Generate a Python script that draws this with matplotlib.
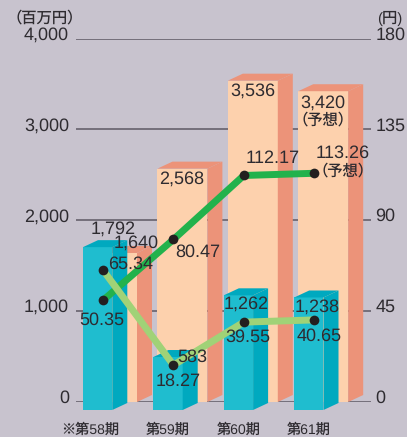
import matplotlib
matplotlib.use("Agg")
import matplotlib.pyplot as plt
from matplotlib.patches import Polygon
from matplotlib.transforms import ScaledTranslation

FONT = ['Liberation Sans', 'Noto Sans CJK JP', 'DejaVu Sans']
plt.rcParams['font.family'] = FONT
plt.rcParams['text.hinting'] = 'no_hinting'
plt.rcParams['text.hinting_factor'] = 1

# ---------- data ----------
periods = ['※第58期', '第59期', '第60期', '第61期']
sales = [1640, 2568, 3536, 3420]
profit = [1792, 583, 1262, 1238]
eps = [50.35, 80.47, 112.17, 113.26]
dividend = [65.34, 18.27, 39.55, 40.65]
left_ticks = [0, 1000, 2000, 3000, 4000]
right_ticks = [0, 45, 90, 135, 180]
forecast_note = '（予想）'
left_unit = '（百万円）'
right_unit = '(円)'

# ---------- styles ----------
BG = '#C8C3CE'
TXT = '#2E2B30'
GRID = '#5E5964'
PEACH, PEACH_D = '#FDD1AD', '#EC9379'
BLUE, BLUE_D = '#1FBDCF', '#00A9BF'
GREEN_D, GREEN_L = '#22B24C', '#A0D277'
W, H = 407, 437
PX_X = 70.4        # pixels per category
PX_Y = 0.091       # pixels per unit on left axis
DEPTH_X, DEPTH_Y = 15, 7

fig = plt.figure(figsize=(W / 100, H / 100), dpi=100, facecolor=BG)
ax = fig.add_axes([76 / W, 1 - 402 / H, 295 / W, 363.5 / H])
ax.set_facecolor('none')
ax.set_xlim((76 - 103) / PX_X, (371 - 103) / PX_X)
ax.set_ylim(0, 4000)
for s in ax.spines.values():
    s.set_visible(False)


def box(i, value, left_px, width_px, base_px, front, dark, z):
    """3-D column for category i; the whole column is dropped by base_px."""
    x0 = i + left_px / PX_X
    x1 = x0 + width_px / PX_X
    dx = DEPTH_X / PX_X
    dy = DEPTH_Y / PX_Y
    b = -base_px / PX_Y
    top = value + b
    ax.bar(x0, value, width=x1 - x0, bottom=b, align='edge', color=front,
           linewidth=0, zorder=z, clip_on=False)
    ax.add_patch(Polygon([(x1, b), (x1 + dx, b + dy), (x1 + dx, top + dy), (x1, top)],
                         facecolor=dark, edgecolor='none', zorder=z, clip_on=False))
    ax.add_patch(Polygon([(x0, top), (x1, top), (x1 + dx, top + dy), (x0 + dx, top + dy)],
                         facecolor=dark, edgecolor='none', zorder=z, clip_on=False))


for i, v in enumerate(sales):
    box(i, v, -16, 50, 0, PEACH, PEACH_D, 2)
for i, v in enumerate(profit):
    box(i, v, -20, 29.3, 8, BLUE, BLUE_D, 3)

ax.set_yticks(left_ticks)
ax.set_yticklabels([f'{v:,}' for v in left_ticks])
ax.yaxis.grid(True, color=GRID, linewidth=1.1)
ax.xaxis.grid(False)
ax.set_axisbelow(True)
ax.tick_params(axis='y', length=0, pad=5, labelsize=12.7, labelcolor=TXT)

label_shift = [-13, -6, -5.5, -5]
ax.set_xticks([i + s / PX_X for i, s in enumerate(label_shift)])
ax.set_xticklabels(periods)
ax.tick_params(axis='x', length=0, pad=15, labelsize=10.2, labelcolor=TXT)

ax2 = ax.twinx()
ax2.set_facecolor('none')
ax2.set_ylim(0, 180)
for s in ax2.spines.values():
    s.set_visible(False)
ax2.set_yticks(right_ticks)
ax2.set_yticklabels([str(v) for v in right_ticks])
ax2.tick_params(axis='y', length=0, pad=3, labelsize=12.7, labelcolor=TXT)

xs = list(range(len(periods)))
ax2.plot(xs, eps, color=GREEN_D, lw=5, solid_capstyle='butt', zorder=4)
ax2.plot(xs, dividend, color=GREEN_L, lw=5, solid_capstyle='butt', zorder=5)
ax2.plot(xs, eps, 'o', color='#231F20', ms=7, mew=0, zorder=6)
ax2.plot(xs, dividend, 'o', color='#231F20', ms=7, mew=0, zorder=6)

# numeric tick labels sit slightly above their grid lines
up = ScaledTranslation(0, 5.5 / 100, fig.dpi_scale_trans)
for t in ax.get_yticklabels() + ax2.get_yticklabels():
    t.set_transform(t.get_transform() + up)


def lab(x, y, s, size=12.7):
    fig.text(x / W, 1 - y / H, s, ha='center', va='center', color=TXT,
             fontsize=size, family=FONT, zorder=10)


lab(45, 18, left_unit, 11)
lab(390, 18, right_unit, 11)

for x, y, v in zip([135.8, 182, 253, 323], [243, 179, 91, 103], sales):
    lab(x, y, f'{v:,}')
for x, y, v in zip([112.7, 192, 246, 317], [229, 357, 304, 307], profit):
    lab(x, y, f'{v:,}')
for x, y, v in zip([102, 198, 273, 343], [320, 252, 158, 153], eps):
    lab(x, y, f'{v:.2f}')
for x, y, v in zip([131, 178, 248, 319], [264, 381, 337, 336], dividend):
    lab(x, y, f'{v:.2f}')
lab(323, 120, forecast_note, 11)
lab(343, 171, forecast_note, 11)

fig.savefig('out.png', dpi=100, facecolor=BG)
